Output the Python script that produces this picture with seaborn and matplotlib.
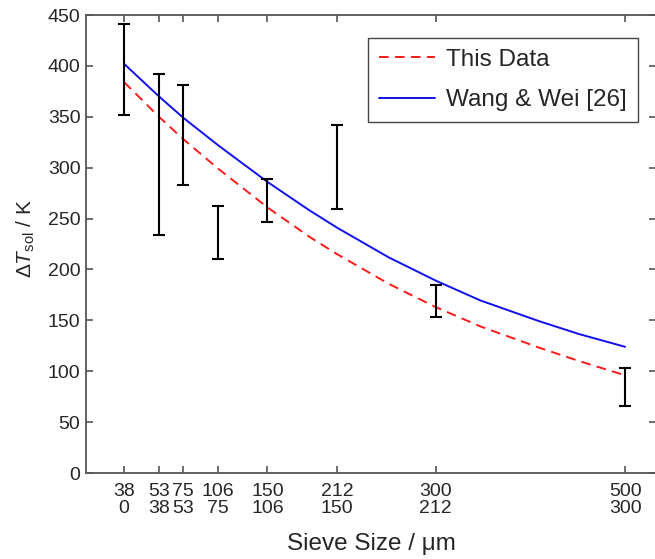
import matplotlib
matplotlib.use("Agg")
import matplotlib.pyplot as plt
import numpy as np
import pandas as pd
import seaborn as sns

# sieve ranges (upper / lower, um) and plotting position = midpoint
sieve_upper = [38, 53, 75, 106, 150, 212, 300, 500]
sieve_lower = [0, 38, 53, 75, 106, 150, 212, 300]
tick_labels = [f"{u}\n{l}" for u, l in zip(sieve_upper, sieve_lower)]

dt_low = [352, 234, 283, 210, 247, 259, 153, 66]
dt_high = [441, 392, 381, 262, 289, 342, 185, 103]

# fitted curves
curve_x = [19, 45.5, 64, 90.5, 128, 160, 181, 220, 256, 290, 335, 365, 400]
this_data = [384, 350, 328, 299, 261, 232, 215, 186, 163, 144, 123, 110, 96]
wang_wei = [402, 370, 349, 322, 286, 258, 241, 212, 189, 169.5, 149, 136.5, 124]

sns.set_style("ticks")
plt.rcParams["font.family"] = ["Liberation Sans", "DejaVu Sans"]
plt.rcParams["mathtext.fontset"] = "custom"
plt.rcParams["mathtext.rm"] = "Liberation Sans"
plt.rcParams["mathtext.it"] = "Liberation Sans:italic"

fig = plt.figure(figsize=(6.55, 5.59), dpi=100)
ax = fig.add_axes([86 / 655, 86 / 559, 570 / 655, 458 / 559])

mid = [(u + l) / 2 for u, l in zip(sieve_upper, sieve_lower)]
centre = [(a + b) / 2 for a, b in zip(dt_low, dt_high)]
half = [(b - a) / 2 for a, b in zip(dt_low, dt_high)]

curves = pd.DataFrame({"x": curve_x, "this": this_data, "wang": wang_wei})
sns.lineplot(data=curves, x="x", y="this", ax=ax, color="#ff1a1a",
             linestyle=(0, (5, 3.2)), linewidth=1.4, label="This Data")
sns.lineplot(data=curves, x="x", y="wang", ax=ax, color="#1010ee",
             linewidth=1.4, label="Wang & Wei [26]")
ax.errorbar(mid, centre, yerr=half, fmt="none", ecolor="black",
            elinewidth=1.5, capsize=4, capthick=1.5, zorder=3)

ax.set_xlim(-10, 423.5)
ax.set_ylim(0, 450)
ax.set_xticks(mid)
ax.set_xticklabels(tick_labels, linespacing=1.05)
ax.set_yticks(np.arange(0, 451, 50))
ax.tick_params(direction="in", length=5, width=1.2, color="#555555",
               labelsize=14, top=True, right=True, pad=4)
ax.tick_params(axis="x", pad=7)
for sp in ax.spines.values():
    sp.set_visible(True)
    sp.set_color("#555555")
    sp.set_linewidth(1.3)

ax.set_xlabel("Sieve Size / \u03bcm", fontsize=17.5, labelpad=11)
ax.set_ylabel(r"$\Delta \mathit{T}_{\mathrm{sol}}$ / K", fontsize=15,
              labelpad=8, y=0.513)

leg = ax.legend(loc="upper right", bbox_to_anchor=(0.968, 0.95), fontsize=17.5,
                fancybox=False, framealpha=1, edgecolor="#444444",
                handlelength=2.3, handletextpad=0.45, borderpad=0.45,
                labelspacing=0.75, borderaxespad=0)
leg.get_frame().set_linewidth(1.0)

fig.savefig("out.png", dpi=100)
